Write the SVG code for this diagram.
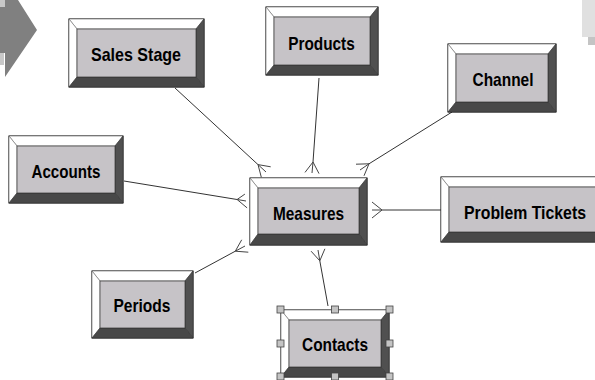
<svg xmlns="http://www.w3.org/2000/svg" width="595" height="380" viewBox="0 0 595 380">
<style>
.outer{fill:#fff;stroke:#000;stroke-width:1}
.lt{fill:#fff;stroke:#666;stroke-width:0.6}
.dk{fill:#505050;stroke:#333;stroke-width:0.6}
.dk2{fill:#484848;stroke:#333;stroke-width:0.6}
.face{fill:#c6c3c7;stroke:#333;stroke-width:0.7}
.lbl{font-family:"Liberation Sans",Arial,sans-serif;font-weight:bold;font-size:19px;fill:#000;text-anchor:middle}
.conn{fill:none;stroke:#333;stroke-width:1}
.crow{fill:none;stroke:#444;stroke-width:1}
.hdl{fill:#c4c4c4;stroke:#444;stroke-width:0.8}
</style>
<rect width="595" height="380" fill="#fff"/>
<g id="decor">
<polygon points="0,7 5,7 5,0 18,0 37,30 5,77 5,53 0,53" fill="#808080"/>
<rect x="0" y="0" width="5" height="7" fill="#c8c8c8"/>
<rect x="0" y="53" width="4" height="12" fill="#c8c8c8"/>
<rect x="582" y="0" width="13" height="37" fill="#e0e0e0"/>
<rect x="588" y="37" width="7" height="8" fill="#c4c4c4"/>
</g>
<g id="connectors">
<path class="conn" d="M175,88 L258,164.6"/>
<path class="crow" d="M258,164.6 L266,172 M258,164.6 L261.3,177.2 M258,164.6 L270.7,166.8"/>
<path class="conn" d="M319,78 L313,162"/>
<path class="crow" d="M313,162 L312,173 M313,162 L305,172.4 M313,162 L319,173.6"/>
<path class="conn" d="M452,112 L369,163.8"/>
<path class="crow" d="M369,163.8 L360,170 M369,163.8 L364,175.8 M369,163.8 L356,164.2"/>
<path class="conn" d="M124,181 L237.1,199.5"/>
<path class="crow" d="M237.1,199.5 L246,201 M237.1,199.5 L244.9,194.1 M237.1,199.5 L247.1,207.9"/>
<path class="conn" d="M195,273 L235.3,251.2"/>
<path class="crow" d="M235.3,251.2 L245,246 M235.3,251.2 L248.3,252.2 M235.3,251.2 L241.7,239.8"/>
<path class="conn" d="M441,210 L382,210"/>
<path class="crow" d="M382,210 L372,210 M382,210 L372,202 M382,210 L372,218"/>
<path class="conn" d="M328,306 L319.8,260.8"/>
<path class="crow" d="M319.8,260.8 L318,250 M319.8,260.8 L324.9,248.8 M319.8,260.8 L311.1,251.2"/>
</g>
<g id="sales-stage" transform="translate(69,19)">
<rect class="outer" width="135" height="68"/>
<polygon class="lt" points="0,0 135,0 127,10 8,10"/>
<polygon class="lt" points="0,0 8,10 8,58 0,68"/>
<polygon class="dk" points="135,0 135,68 127,58 127,10"/>
<polygon class="dk2" points="0,68 8,58 127,58 135,68"/>
<rect class="face" x="8" y="10" width="119" height="48"/>
<text class="lbl" x="67" y="42" textLength="90" lengthAdjust="spacingAndGlyphs">Sales Stage</text>
</g>
<g id="products" transform="translate(266,7)">
<rect class="outer" width="112" height="68"/>
<polygon class="lt" points="0,0 112,0 104,10 8,10"/>
<polygon class="lt" points="0,0 8,10 8,58 0,68"/>
<polygon class="dk" points="112,0 112,68 104,58 104,10"/>
<polygon class="dk2" points="0,68 8,58 104,58 112,68"/>
<rect class="face" x="8" y="10" width="96" height="48"/>
<text class="lbl" x="55.5" y="43" textLength="66.5" lengthAdjust="spacingAndGlyphs">Products</text>
</g>
<g id="channel" transform="translate(448,44)">
<rect class="outer" width="108" height="68"/>
<polygon class="lt" points="0,0 108,0 100,10 8,10"/>
<polygon class="lt" points="0,0 8,10 8,58 0,68"/>
<polygon class="dk" points="108,0 108,68 100,58 100,10"/>
<polygon class="dk2" points="0,68 8,58 100,58 108,68"/>
<rect class="face" x="8" y="10" width="92" height="48"/>
<text class="lbl" x="55" y="42" textLength="61" lengthAdjust="spacingAndGlyphs">Channel</text>
</g>
<g id="accounts" transform="translate(9,136)">
<rect class="outer" width="114" height="67"/>
<polygon class="lt" points="0,0 114,0 106,10 8,10"/>
<polygon class="lt" points="0,0 8,10 8,57 0,67"/>
<polygon class="dk" points="114,0 114,67 106,57 106,10"/>
<polygon class="dk2" points="0,67 8,57 106,57 114,67"/>
<rect class="face" x="8" y="10" width="98" height="47"/>
<text class="lbl" x="57" y="42" textLength="69" lengthAdjust="spacingAndGlyphs">Accounts</text>
</g>
<g id="measures" transform="translate(250,178)">
<rect class="outer" width="117" height="67"/>
<polygon class="lt" points="0,0 117,0 109,10 8,10"/>
<polygon class="lt" points="0,0 8,10 8,56 0,67"/>
<polygon class="dk" points="117,0 117,67 109,56 109,10"/>
<polygon class="dk2" points="0,67 8,56 109,56 117,67"/>
<rect class="face" x="8" y="10" width="101" height="46"/>
<text class="lbl" x="58.5" y="42" textLength="71" lengthAdjust="spacingAndGlyphs">Measures</text>
</g>
<g id="problem-tickets" transform="translate(441,177)">
<rect class="outer" width="170" height="65"/>
<polygon class="lt" points="0,0 170,0 162,10 8,10"/>
<polygon class="lt" points="0,0 8,10 8,55 0,65"/>
<polygon class="dk" points="170,0 170,65 162,55 162,10"/>
<polygon class="dk2" points="0,65 8,55 162,55 170,65"/>
<rect class="face" x="8" y="10" width="154" height="45"/>
<text class="lbl" x="84" y="42" textLength="122" lengthAdjust="spacingAndGlyphs">Problem Tickets</text>
</g>
<g id="periods" transform="translate(92,271)">
<rect class="outer" width="101" height="67"/>
<polygon class="lt" points="0,0 101,0 93,10 8,10"/>
<polygon class="lt" points="0,0 8,10 8,57 0,67"/>
<polygon class="dk" points="101,0 101,67 93,57 93,10"/>
<polygon class="dk2" points="0,67 8,57 93,57 101,67"/>
<rect class="face" x="8" y="10" width="85" height="47"/>
<text class="lbl" x="50" y="41" textLength="57" lengthAdjust="spacingAndGlyphs">Periods</text>
</g>
<g id="contacts" transform="translate(281,310)">
<rect class="outer" width="108" height="67"/>
<polygon class="lt" points="0,0 108,0 100,10 8,10"/>
<polygon class="lt" points="0,0 8,10 8,57 0,67"/>
<polygon class="dk" points="108,0 108,67 100,57 100,10"/>
<polygon class="dk2" points="0,67 8,57 100,57 108,67"/>
<rect class="face" x="8" y="10" width="92" height="47"/>
<text class="lbl" x="54" y="41" textLength="66" lengthAdjust="spacingAndGlyphs">Contacts</text>
<rect class="hdl" x="-4" y="-4" width="7" height="7"/>
<rect class="hdl" x="50.5" y="-4" width="7" height="7"/>
<rect class="hdl" x="105" y="-4" width="7" height="7"/>
<rect class="hdl" x="-4" y="30" width="7" height="7"/>
<rect class="hdl" x="105" y="30" width="7" height="7"/>
<rect class="hdl" x="-4" y="63" width="7" height="7"/>
<rect class="hdl" x="50.5" y="63" width="7" height="7"/>
<rect class="hdl" x="105" y="63" width="7" height="7"/>
</g>
</svg>
